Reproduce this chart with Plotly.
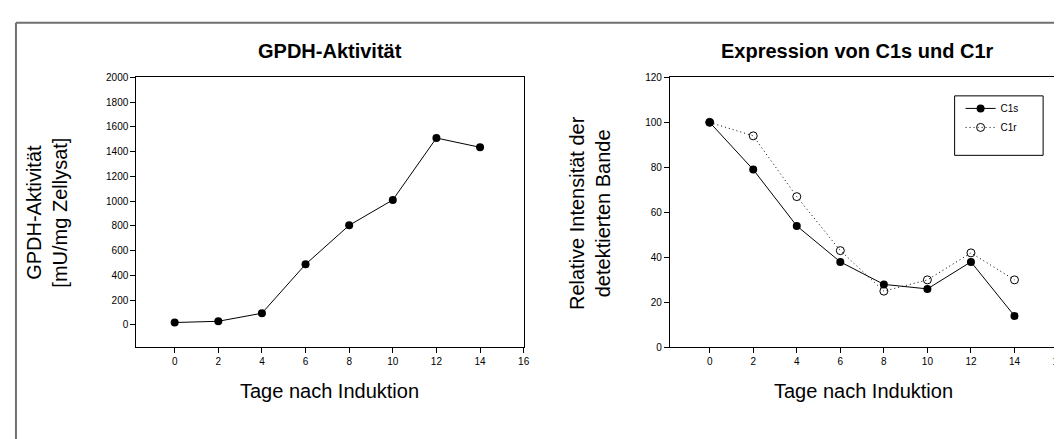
import plotly.graph_objects as go

# ---- data ----
days = [0, 2, 4, 6, 8, 10, 12, 14]
gpdh = [20, 30, 95, 490, 805, 1010, 1510, 1435]
c1s = [100, 79, 54, 38, 28, 26, 38, 14]
c1r = [100, 94, 67, 43, 25, 30, 42, 30]
x_ticks = [0, 2, 4, 6, 8, 10, 12, 14, 16]
y1_ticks = list(range(0, 2001, 200))
y2_ticks = list(range(0, 121, 20))

title_left = "GPDH-Aktivität"
title_right = "Expression von C1s und C1r"
xlabel = "Tage nach Induktion"
ylabel_left = "GPDH-Aktivität<br>[mU/mg Zellysat]"
ylabel_right = "Relative Intensität der<br>detektierten Bande"

W, H = 1062, 439
FONT = "Liberation Sans, Arial, sans-serif"

def px(x):
    return x / W

def py(y):
    return 1 - y / H

fig = go.Figure()

fig.add_trace(go.Scatter(
    x=days, y=gpdh, mode="lines+markers", xaxis="x", yaxis="y",
    line=dict(color="black", width=1),
    marker=dict(symbol="circle", size=8, color="black"),
    showlegend=False,
))
fig.add_trace(go.Scatter(
    x=days, y=c1s, mode="lines+markers", xaxis="x2", yaxis="y2", name="C1s",
    line=dict(color="black", width=1),
    marker=dict(symbol="circle", size=8, color="black"),
))
fig.add_trace(go.Scatter(
    x=days, y=c1r, mode="lines+markers", xaxis="x2", yaxis="y2", name="C1r",
    line=dict(color="black", width=1, dash="1px,3px"),
    marker=dict(symbol="circle-open", size=8, color="black", line=dict(width=1)),
))

axis_common = dict(
    showline=True, linecolor="black", linewidth=1, mirror=True,
    ticks="outside", ticklen=5, tickwidth=1, tickcolor="black",
    showgrid=False, zeroline=False,
    tickfont=dict(family=FONT, size=10, color="black"),
)

fig.update_layout(
    width=W, height=H,
    margin=dict(l=0, r=0, t=0, b=0),
    paper_bgcolor="white", plot_bgcolor="white",
    xaxis=dict(domain=[px(129), px(518.6)], range=[-1.76, 16],
               tickvals=x_ticks, anchor="y", **axis_common),
    yaxis=dict(domain=[py(343), py(66)], range=[-181, 2000],
               tickvals=y1_ticks, anchor="x", **axis_common),
    xaxis2=dict(domain=[px(665.6), px(1056)], range=[-1.83, 16],
                tickvals=x_ticks, anchor="y2", **axis_common),
    yaxis2=dict(domain=[py(343), py(66)], range=[0, 120],
                tickvals=y2_ticks, anchor="x2", **axis_common),
    showlegend=True,
    legend=dict(x=px(958), y=py(83), xanchor="left", yanchor="top",
                bgcolor="rgba(0,0,0,0)", borderwidth=0,
                font=dict(family=FONT, size=10, color="black"),
                itemwidth=30, tracegroupgap=0),
)

# outer frame
fig.add_shape(type="line", xref="paper", yref="paper",
              x0=px(8), x1=1, y0=py(10), y1=py(10),
              line=dict(color="#707070", width=2))
fig.add_shape(type="line", xref="paper", yref="paper",
              x0=px(8), x1=px(8), y0=py(10), y1=0,
              line=dict(color="#707070", width=2))
# legend box
fig.add_shape(type="rect", xref="paper", yref="paper",
              x0=px(952), x1=px(1041), y0=py(146), y1=py(85),
              line=dict(color="black", width=1))

ann = []
ann.append(dict(text="<b>%s</b>" % title_left, x=px(323.7), y=py(39)))
ann.append(dict(text="<b>%s</b>" % title_right, x=px(854.6), y=py(39)))
for a in ann:
    a.update(font=dict(family=FONT, size=20, color="black"))
ann.append(dict(text=xlabel, x=px(323.7), y=py(388),
                font=dict(family=FONT, size=20, color="black")))
ann.append(dict(text=xlabel, x=px(860.8), y=py(388),
                font=dict(family=FONT, size=20, color="black")))
ann.append(dict(text=ylabel_left, x=px(39), y=py(205), textangle=-90,
                font=dict(family=FONT, size=20, color="black")))
ann.append(dict(text=ylabel_right, x=px(585.5), y=py(205), textangle=-90,
                font=dict(family=FONT, size=20, color="black")))
for a in ann:
    a.update(xref="paper", yref="paper", showarrow=False,
             xanchor="center", yanchor="middle")
fig.update_layout(annotations=ann)

fig.write_html("out.html")
